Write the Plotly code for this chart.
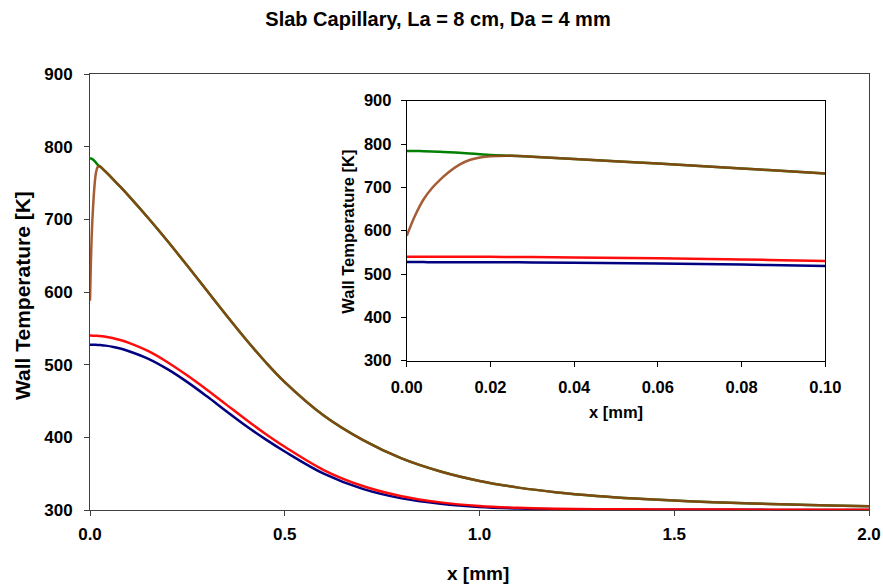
import plotly.graph_objects as go

# ---- data ----
x_mm = [0, 0.002, 0.004, 0.006, 0.008, 0.01, 0.0125, 0.015, 0.0175, 0.02, 0.025,
        0.03, 0.04, 0.06, 0.08, 0.1, 0.15, 0.2, 0.25, 0.3, 0.35, 0.4, 0.45, 0.5,
        0.6, 0.7, 0.8, 0.9, 1.0, 1.1, 1.2, 1.3, 1.4, 1.5, 1.6, 1.7, 1.8, 1.9, 2.0]

t_green = [784, 783.8, 783.4, 782.8, 782.0, 781.1, 779.8, 778.3, 776.6, 774.9, 773,
           770.8, 765.6, 754.8, 743.6, 732, 701.5, 669.5, 636, 602, 568, 535, 504, 476,
           430, 396.5, 371, 353, 340, 330.8, 324.2, 319.4, 315.8, 313, 310.8, 309, 307.5, 306.3, 305.3]

t_brown = [588, 635, 672, 698, 718, 735, 752, 763, 769, 772, 773,
           770.8, 765.6, 754.8, 743.6, 732, 701.5, 669.5, 636, 602, 568, 535, 504, 476,
           430, 396.5, 371, 353, 340, 330.8, 324.2, 319.4, 315.8, 313, 310.8, 309, 307.5, 306.3, 305.3]

t_red = [540, 540, 540, 539.9, 539.9, 539.8, 539.8, 539.7, 539.7, 539.6, 539.4,
         539.1, 538.4, 536.4, 533.6, 530, 518.5, 503, 485, 465.5, 445, 424.5, 405, 387,
         355, 333, 319, 310.5, 305.5, 303, 301.8, 301.2, 300.9, 300.7, 300.6, 300.5, 300.4, 300.4, 300.3]

t_blue = [527.5, 527.5, 527.5, 527.4, 527.4, 527.4, 527.3, 527.3, 527.2, 527.2, 527,
          526.8, 526.2, 524.4, 521.8, 518.5, 508, 493.5, 476, 456.5, 436, 416, 397.5, 380.5,
          350, 329, 316, 308.5, 304, 302, 301, 300.6, 300.4, 300.3, 300.2, 300.2, 300.1, 300.1, 300.1]

title_text = "Slab Capillary, La = 8 cm, Da = 4 mm"
y_title = "Wall Temperature [K]"
x_title = "x [mm]"

FONT = "Liberation Sans, Arial, sans-serif"

series = [
    (t_blue, "#000080", 1.0),
    (t_red, "#FF0000", 0.95),
    (t_green, "#008000", 1.0),
    (t_brown, "rgb(150,65,20)", 0.85),
]

fig = go.Figure()
for axes in [("x", "y"), ("x2", "y2")]:
    for vals, col, op in series:
        fig.add_trace(go.Scatter(
            x=x_mm, y=vals, mode="lines", xaxis=axes[0], yaxis=axes[1],
            line=dict(color=col, width=2.5, shape="spline", smoothing=1.0),
            opacity=op, showlegend=False, hoverinfo="skip"))

tick_main = dict(family=FONT, size=17, color="black", weight="bold")
tick_inset = dict(family=FONT, size=16.5, color="black", weight="bold")

common = dict(showgrid=False, zeroline=False, showline=True, linewidth=1, mirror=True,
              ticks="outside", ticklen=5, automargin=False)

fig.update_layout(
    width=883, height=584,
    margin=dict(l=90, r=14, t=74, b=74, autoexpand=False),
    paper_bgcolor="white", plot_bgcolor="white",
    showlegend=False,
    title=dict(text=title_text, xref="container", x=438 / 883, xanchor="center",
               yref="container", y=1 - 19 / 584, yanchor="middle", automargin=False,
               font=dict(family=FONT, size=20, color="black", weight="bold")),
    xaxis=dict(domain=[0, 1], range=[0, 2], dtick=0.5, tick0=0, tickformat=".1f",
               linecolor="#404040", tickcolor="#404040",
               tickfont=tick_main, ticklabelstandoff=4, **common),
    yaxis=dict(domain=[0, 1], range=[300, 900], dtick=100, tick0=300,
               linecolor="#404040", tickcolor="#404040",
               tickfont=tick_main, ticklabelstandoff=8, **common),
    xaxis2=dict(domain=[0.4066, 0.944], anchor="y2", range=[0, 0.1], dtick=0.02, tick0=0,
                tickformat=".2f", linecolor="black", tickcolor="black",
                tickfont=tick_inset, ticklabelstandoff=6, **common),
    yaxis2=dict(domain=[0.3424, 0.9388], anchor="x2", range=[300, 900], dtick=100, tick0=300,
                linecolor="black", tickcolor="black",
                tickfont=tick_inset, ticklabelstandoff=6, **common),
)

ann_font_main = dict(family=FONT, size=21, color="black", weight="bold")
ann_font_x = dict(family=FONT, size=19, color="black", weight="bold")
ann_font_inset = dict(family=FONT, size=16.5, color="black", weight="bold")
fig.add_annotation(text=y_title, xref="paper", yref="paper", x=(22 - 90) / 779,
                   y=(510 - 296) / 436, xanchor="center", yanchor="middle",
                   textangle=-90, showarrow=False, font=ann_font_main)
fig.add_annotation(text=x_title, xref="paper", yref="paper", x=(478 - 90) / 779,
                   y=(510 - 573) / 436, xanchor="center", yanchor="middle",
                   showarrow=False, font=ann_font_x)
fig.add_annotation(text=y_title, xref="paper", yref="paper", x=(348 - 90) / 779,
                   y=(510 - 231.7) / 436, xanchor="center", yanchor="middle",
                   textangle=-90, showarrow=False, font=ann_font_inset)
fig.add_annotation(text=x_title, xref="paper", yref="paper", x=(616 - 90) / 779,
                   y=(510 - 411.7) / 436, xanchor="center", yanchor="middle",
                   showarrow=False, font=ann_font_inset)

fig.write_html(
    "out.html",
    config={"displayModeBar": False},
    post_script="document.body.style.margin='0';document.body.style.overflow='hidden';",
)
